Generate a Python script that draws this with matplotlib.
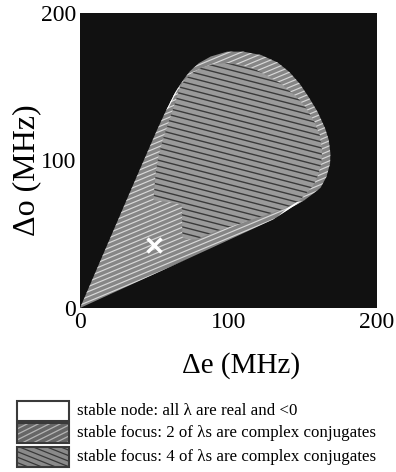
import numpy as np
import matplotlib
matplotlib.use('Agg')
import matplotlib.pyplot as plt
from matplotlib.patches import Polygon, Rectangle
from matplotlib.collections import LineCollection

plt.rcParams['font.family'] = ['Liberation Serif', 'DejaVu Serif']

# ---- data (MHz) ----
outer_e = [0, 30, 60, 90, 115, 130, 143, 151, 157, 162, 166, 168.4, 168.6, 167.5, 165, 160, 154,
           148, 141, 133, 122, 110, 99, 88, 80, 74, 69.5, 64, 58, 52, 36]
outer_o = [0, 13.8, 27.6, 41.4, 53, 60, 68.5, 73, 77.5, 81.5, 89, 98, 105, 114, 122, 133, 143,
           152, 160, 166.5, 171.5, 173.8, 173.8, 170.5, 166, 160.5, 154.5, 146, 134, 121, 84]

inner_e = [67.5, 61, 56, 53, 51, 50, 49.5, 55, 62, 68.5, 69, 72, 78, 90, 112, 135, 146, 152.5,
           157, 160, 162.5, 163, 161.5, 158, 152, 146, 135, 125, 117, 108, 99, 90, 82, 75, 70]
inner_o = [150, 130, 115, 104, 92, 80, 73, 72.5, 71.5, 70, 48, 46.5, 46.5, 51.5, 58.6, 66.4, 71,
           77.8, 83, 89, 98, 107, 117, 126, 136, 143, 152.3, 158, 162.5, 165, 166, 165.5, 163, 159, 154]

node1_e = [58, 64, 69.5, 72, 68.5, 63.5, 59.5]
node1_o = [134, 146, 154.5, 158, 153, 143.5, 135.5]
node2_e = [132, 140, 147, 150, 146, 140, 134]
node2_o = [61.3, 66.5, 71.25, 72.6, 71.8, 68.0, 62.8]

point_e, point_o = [50], [43]

ticks = [0, 100, 200]
legend_labels = ['stable node: all \u03bb are real and <0',
                 'stable focus: 2 of \u03bbs are complex conjugates',
                 'stable focus: 4 of \u03bbs are complex conjugates']


def hatch(ax, patch, slope, step, color, lw, x0, x1, c0, c1, z):
    cs = np.arange(c0, c1, step)
    segs = [[(x0, slope * x0 + c), (x1, slope * x1 + c)] for c in cs]
    lc = LineCollection(segs, colors=color, linewidths=lw, zorder=z)
    lc.set_clip_path(patch)
    ax.add_collection(lc)


def rect_hatch(ax, x0, y0, w, h, slope, step, color, lw, z):
    # hatch lines cut to a rectangle by hand
    segs = []
    for c in np.arange(y0 - abs(slope) * w - h, y0 + h + abs(slope) * w + h, step):
        xa, xb = (y0 - c) / slope, (y0 + h - c) / slope
        lo, hi = max(x0, min(xa, xb)), min(x0 + w, max(xa, xb))
        if lo < hi:
            segs.append([(lo, slope * lo + c), (hi, slope * hi + c)])
    ax.add_collection(LineCollection(segs, colors=color, linewidths=lw, zorder=z))


W, H = 396, 472
fig = plt.figure(figsize=(W / 100, H / 100), dpi=100)
ax = fig.add_axes([80 / W, 1 - 308 / H, 297 / W, 295 / H])
ax.set_facecolor('#111111')
ax.set_xlim(0, 200); ax.set_ylim(0, 200)
for s in ax.spines.values():
    s.set_visible(False)
ax.set_xticks(ticks); ax.set_yticks(ticks)
ax.tick_params(length=0, labelsize=17, pad=3)

outer = Polygon(np.column_stack([outer_e, outer_o]), closed=True, fc='#868686', ec='none', zorder=2)
ax.add_patch(outer)
hatch(ax, outer, 0.42, 3.4, '#d8d8d8', 0.85, -5, 205, -100, 215, 3)

inner = Polygon(np.column_stack([inner_e, inner_o]), closed=True, fc='#9a9a9a', ec='none', zorder=4)
ax.add_patch(inner)
hatch(ax, inner, -0.26, 4.1, '#3a3a3a', 1.0, -5, 205, -5, 270, 5)

for ne, no in [(node1_e, node1_o), (node2_e, node2_o)]:
    ax.add_patch(Polygon(np.column_stack([ne, no]), closed=True, fc='white', ec='none', zorder=6))

ax.plot(point_e, point_o, 'x', color='white', ms=10, mew=2.5, zorder=7)

fig.text(241 / W, 1 - 366 / H, '\u0394e (MHz)', ha='center', va='center', fontsize=21)
fig.text(27 / W, 1 - 170 / H, '\u0394o (MHz)', ha='center', va='center', fontsize=23, rotation=90)

# ---- legend, drawn in pixel coordinates ----
lg = fig.add_axes([0, 0, 1, 1], facecolor='none')
lg.set_xlim(0, W); lg.set_ylim(H, 0); lg.axis('off')
styles = [('white', None), ('#666666', ('#b4b4b4', -0.5)), ('#8a8a8a', ('#383838', 0.4))]
tops = [401, 423, 447]
for lab, top, (fc, hs) in zip(legend_labels, tops, styles):
    lg.add_patch(Rectangle((17, top), 52, 20, fc=fc, ec='none', zorder=2))
    if hs is not None:
        rect_hatch(lg, 17, top, 52, 20, hs[1], 5.5, hs[0], 0.9, 3)
    lg.add_patch(Rectangle((17, top), 52, 20, fc='none', ec='#3a3a3a', lw=1.5, zorder=4))
    lg.text(77, top + 10, lab, ha='left', va='center', fontsize=12.2)

fig.savefig('out.png', dpi=100)
